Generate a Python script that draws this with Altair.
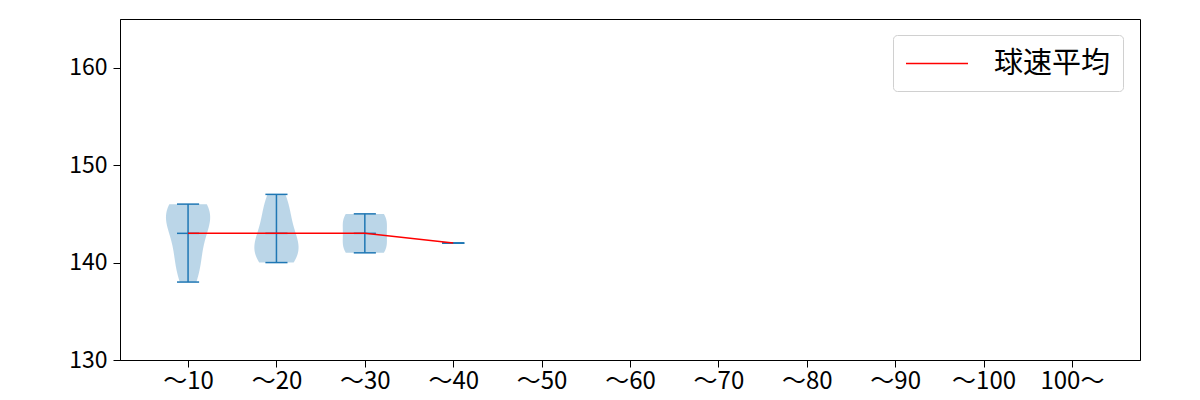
import altair as alt
import pandas as pd

categories = ["～10", "～20", "～30", "～40", "～50", "～60", "～70", "～80", "～90", "～100", "100～"]
positions = list(range(1, len(categories) + 1))

# pitch speeds (km/h) per bucket
speeds_10 = [146, 146, 146, 145, 145, 144, 144, 143, 142, 141, 140, 139, 138]
speeds_20 = [147, 146, 145, 144, 143, 142, 142, 141, 141, 140, 140]
speeds_30 = [145, 145, 144, 143, 142, 141, 141]
speeds_40 = [142]

mean_pos = [1, 2, 3, 4]
mean_speed = [143, 143, 143, 142]

samples = []
for p, vals in zip([1, 2, 3, 4], [speeds_10, speeds_20, speeds_30, speeds_40]):
    for v in vals:
        samples.append({"pos": p, "speed": v})
df = pd.DataFrame(samples)
means_df = pd.DataFrame({"pos": mean_pos, "mean": mean_speed, "series": ["球速平均"] * len(mean_pos)})

BLUE = "#1f77b4"
FONT = "Noto Sans CJK JP"

xscale = alt.Scale(domain=[0.23, 11.77], nice=False, zero=False)
yscale = alt.Scale(domain=[130, 165], nice=False, zero=False)

label_expr = "[" + ",".join("'" + c + "'" for c in categories) + "][datum.value - 1]"

xaxis = alt.Axis(values=positions, labelExpr=label_expr, title=None, grid=False,
                 tickSize=7, labelFontSize=24, labelFont=FONT, labelColor="black",
                 domainColor="black", tickColor="black", labelPadding=2)
yaxis = alt.Axis(values=[130, 140, 150, 160], title=None, grid=False, tickSize=7,
                 labelFontSize=23, labelFont=FONT, labelColor="black",
                 domainColor="black", tickColor="black", labelPadding=6)

base = alt.Chart(df)

violin = base.transform_joinaggregate(
    n="count()", mn="min(speed)", mx="max(speed)", groupby=["pos"]
).transform_filter(
    "datum.n > 1"
).transform_density(
    "speed", groupby=["pos", "mn", "mx"], as_=["value", "density"],
    extent=[130, 165], steps=3501
).transform_filter(
    "datum.value >= datum.mn - 0.001 && datum.value <= datum.mx + 0.001"
).transform_joinaggregate(
    maxd="max(density)", groupby=["pos"]
).transform_calculate(
    lo="datum.pos - 0.25 * datum.density / datum.maxd",
    hi="datum.pos + 0.25 * datum.density / datum.maxd",
).mark_area(orient="horizontal", color=BLUE, opacity=0.3).encode(
    y=alt.Y("value:Q", scale=yscale, axis=yaxis),
    x=alt.X("lo:Q", scale=xscale, axis=xaxis),
    x2="hi:Q",
    detail="pos:N",
)

stats = base.transform_aggregate(
    mn="min(speed)", mx="max(speed)", groupby=["pos"]
).transform_calculate(
    clo="datum.pos - 0.125", chi="datum.pos + 0.125"
)

vbar = stats.mark_rule(color=BLUE, strokeWidth=1.5).encode(
    x=alt.X("pos:Q", scale=xscale), y=alt.Y("mn:Q", scale=yscale), y2="mx:Q"
)
cap_min = stats.mark_rule(color=BLUE, strokeWidth=1.5).encode(
    x=alt.X("clo:Q", scale=xscale), x2="chi:Q", y=alt.Y("mn:Q", scale=yscale)
)
cap_max = stats.mark_rule(color=BLUE, strokeWidth=1.5).encode(
    x=alt.X("clo:Q", scale=xscale), x2="chi:Q", y=alt.Y("mx:Q", scale=yscale)
)

mbase = alt.Chart(means_df)
mean_bar = mbase.transform_calculate(
    clo="datum.pos - 0.125", chi="datum.pos + 0.125"
).mark_rule(color=BLUE, strokeWidth=1.5).encode(
    x=alt.X("clo:Q", scale=xscale), x2="chi:Q", y=alt.Y("mean:Q", scale=yscale)
)

mean_line = mbase.mark_line(strokeWidth=1.5).encode(
    x=alt.X("pos:Q", scale=xscale),
    y=alt.Y("mean:Q", scale=yscale),
    color=alt.Color("series:N", scale=alt.Scale(domain=["球速平均"], range=["red"]),
                    legend=alt.Legend(title=None, orient="none", legendX=773, legendY=16,
                                      symbolType="M-1,0H3", symbolSize=961,
                                      symbolStrokeWidth=1.5, labelFontSize=29,
                                      labelFont=FONT, labelColor="black",
                                      labelOffset=56, padding=12,
                                      strokeColor="#d0d0d0", fillColor="white",
                                      cornerRadius=4)),
)

chart = alt.layer(violin, vbar, cap_min, cap_max, mean_bar, mean_line).properties(
    width=1020, height=341,
    padding={"left": 112, "top": 11, "right": 10, "bottom": 40},
    autosize=alt.AutoSizeParams(type="none"),
).configure_view(stroke="black", strokeWidth=1)

chart.save("out.html", embed_options={"renderer": "svg", "actions": False})
